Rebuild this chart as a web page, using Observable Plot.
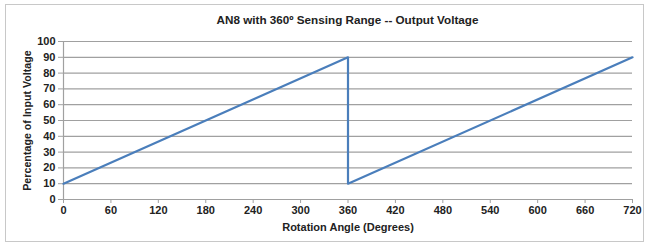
<!DOCTYPE html>
<html>
<head>
<meta charset="utf-8">
<script src="https://cdn.jsdelivr.net/npm/d3@7"></script>
<script src="https://cdn.jsdelivr.net/npm/@observablehq/plot@0.6"></script>
<style>
  body { margin: 0; background: #fff; font-family: "Liberation Sans", Arial, sans-serif; }
  #wrap { position: relative; width: 647px; height: 245px; overflow: hidden; }
  #frame { position: absolute; left: 5px; top: 4px; width: 639px; height: 238px; border: 1px solid #c8c8c8; box-sizing: border-box; }
  #title { position: absolute; left: 63px; width: 569px; top: 13px; text-align: center; font-weight: bold; font-size: 11.7px; line-height: 14px; color: #222; }
  #chart { position: absolute; left: 0; top: 0; }
</style>
</head>
<body>
<div id="wrap">
  <div id="frame"></div>
  <div id="chart"></div>
  <div id="title">AN8 with 360º Sensing Range -- Output Voltage</div>
</div>
<script>
const angles = [0, 360, 360, 720];
const percents = [10, 90, 10, 90];
const xTicks = [0, 60, 120, 180, 240, 300, 360, 420, 480, 540, 600, 660, 720];
const yTicks = [0, 10, 20, 30, 40, 50, 60, 70, 80, 90, 100];
const xLabel = "Rotation Angle (Degrees)";
const yLabel = "Percentage of Input Voltage";

const data = angles.map((a, i) => ({angle: a, pct: percents[i]}));

const chart = Plot.plot({
  width: 647,
  height: 245,
  marginLeft: 63,
  marginRight: 15,
  marginTop: 41,
  marginBottom: 46,
  style: {fontFamily: "'Liberation Sans', Arial, sans-serif", fontSize: "11px", fontWeight: "bold", color: "#222", background: "transparent"},
  x: {domain: [0, 720], ticks: xTicks, label: null},
  y: {domain: [0, 100], ticks: yTicks, label: null},
  marks: [
    Plot.ruleY(yTicks, {stroke: "#a0a0a0", strokeWidth: 1.2}),
    Plot.ruleX([0], {stroke: "#a0a0a0", strokeWidth: 1.2}),
    Plot.axisY({ticks: yTicks, tickSize: 5, tickPadding: 3, stroke: "#a0a0a0", label: null}),
    Plot.axisX({ticks: xTicks, tickSize: 4, tickPadding: 3, stroke: "#a0a0a0", label: null}),
    Plot.line(data, {x: "angle", y: "pct", stroke: "#4a7ebb", strokeWidth: 2.2}),
    Plot.text([xLabel], {frameAnchor: "bottom", textAnchor: "middle", lineAnchor: "middle", dy: 28, text: d => d, fontSize: 11, fontWeight: "bold", fill: "#222"}),
    Plot.text([yLabel], {frameAnchor: "left", textAnchor: "middle", lineAnchor: "middle", dx: -36, rotate: -90, text: d => d, fontSize: 10.7, fontWeight: "bold", fill: "#222"})
  ]
});
document.getElementById("chart").appendChild(chart);
</script>
</body>
</html>
